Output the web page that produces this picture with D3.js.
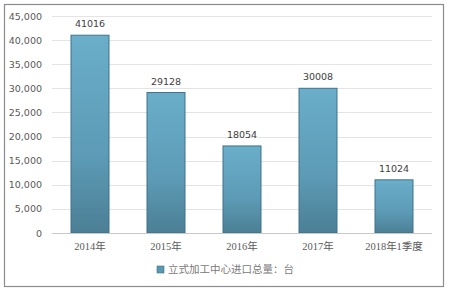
<!DOCTYPE html>
<html><head><meta charset="utf-8">
<script src="https://cdn.jsdelivr.net/npm/d3@7"></script>
<style>body{margin:0;background:#fff;}svg{display:block;}</style>
</head><body>
<script>
const categories = ["2014年","2015年","2016年","2017年","2018年1季度"];
const values = [41016, 29128, 18054, 30008, 11024];
const yTicks = [0,5000,10000,15000,20000,25000,30000,35000,40000,45000];
const seriesName = "立式加工中心进口总量：台";

const W = 449, H = 293;
const svg = d3.select("body").append("svg").attr("width", W).attr("height", H);
const defs = svg.append("defs");
const g = defs.append("linearGradient").attr("id","bg").attr("x1",0).attr("y1",0).attr("x2",0).attr("y2",1);
g.append("stop").attr("offset","0%").attr("stop-color","#6aaeca");
g.append("stop").attr("offset","60%").attr("stop-color","#5d9bb6");
g.append("stop").attr("offset","100%").attr("stop-color","#4b7f95");

svg.append("rect").attr("x",4.5).attr("y",4.5).attr("width",439).attr("height",282)
  .attr("fill","#fff").attr("stroke","#8c8c8c").attr("stroke-width",1.2);

const x = d3.scaleBand().domain(categories).range([52,432]).paddingInner(0.5).paddingOuter(0.25);
const y = d3.scaleLinear().domain([0,45000]).range([233,16]);

svg.append("g").selectAll("line").data(yTicks.slice(1)).join("line")
  .attr("x1",52).attr("x2",432).attr("y1",d=>Math.round(y(d))+0.5).attr("y2",d=>Math.round(y(d))+0.5)
  .attr("stroke","#e4e4e4").attr("stroke-width",1);

const yAxis = svg.append("g").attr("transform","translate(52,0)")
  .call(d3.axisLeft(y).tickValues(yTicks).tickSize(0).tickPadding(10).tickFormat(d3.format(",")));
yAxis.select(".domain").remove();
yAxis.selectAll("text").attr("fill","#595959").attr("font-family","DejaVu Sans, sans-serif").attr("font-size",9.5);

svg.append("g").selectAll("rect").data(values).join("rect")
  .attr("x",(d,i)=>x(categories[i])).attr("width",x.bandwidth())
  .attr("y",d=>y(d)).attr("height",d=>y(0)-y(d))
  .attr("fill","url(#bg)").attr("stroke","#3f7389").attr("stroke-width",1);

svg.append("line").attr("x1",52).attr("x2",432).attr("y1",233.5).attr("y2",233.5).attr("stroke","#c8c8c8");

svg.append("g").selectAll("text").data(values).join("text")
  .attr("x",(d,i)=>x(categories[i])+x.bandwidth()/2).attr("y",d=>y(d)-8)
  .attr("text-anchor","middle").attr("font-family","DejaVu Sans, sans-serif").attr("font-size",9.5)
  .attr("fill","#404040").text(d=>d);

const xAxis = svg.append("g").attr("transform","translate(0,233)")
  .call(d3.axisBottom(x).tickSize(0).tickPadding(10));
xAxis.select(".domain").remove();
xAxis.selectAll("text").attr("fill","#595959").attr("font-family","Liberation Serif, Noto Sans CJK SC, serif").attr("font-size",10.5);

svg.append("rect").attr("x",157).attr("y",266).attr("width",7).attr("height",7).attr("fill","#5a97b1").attr("stroke","#3f7389").attr("stroke-width",0.6);
svg.append("text").attr("x",168).attr("y",273).attr("fill","#7a7a7a")
  .attr("font-family","Noto Sans CJK SC, sans-serif").attr("font-size",10.5).text(seriesName);
</script>
</body></html>
